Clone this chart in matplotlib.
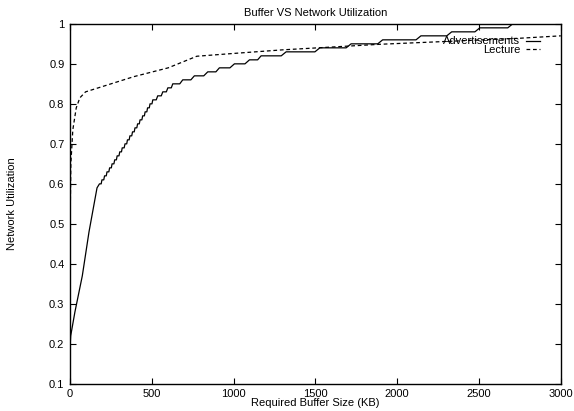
import numpy as np
import matplotlib
matplotlib.use("Agg")
import matplotlib.pyplot as plt

plt.rcParams['font.family'] = ['Liberation Sans', 'DejaVu Sans']

# Advertisements: straight rise first, then a staircase of 0.01 steps
adv_lin_x = [0, 4, 30, 75, 116, 165]
adv_lin_u = [0.19, 0.22, 0.28, 0.37, 0.48, 0.59]
adv_step_x = [180, 195, 211, 226, 242, 257, 273, 288, 304, 319,
              336, 351, 366, 382, 397, 413, 428, 444, 459, 474,
              489, 506, 536, 567, 598, 628, 689, 760, 842, 913,
              1005, 1097, 1168, 1321, 1527, 1718, 1911, 2145, 2333, 2505,
              2706]
adv_step_u = [0.60, 0.61, 0.62, 0.63, 0.64, 0.65, 0.66, 0.67, 0.68, 0.69,
              0.70, 0.71, 0.72, 0.73, 0.74, 0.75, 0.76, 0.77, 0.78, 0.79,
              0.80, 0.81, 0.82, 0.83, 0.84, 0.85, 0.86, 0.87, 0.88, 0.89,
              0.90, 0.91, 0.92, 0.93, 0.94, 0.95, 0.96, 0.97, 0.98, 0.99,
              1.00]
x_end = 3000

# Lecture
lec_x = [0, 2, 5, 17, 38, 60, 95, 390, 600, 775, 1000, 1300, 1900, 2300, 2750, 3000]
lec_u = [0.12, 0.55, 0.65, 0.735, 0.79, 0.815, 0.83, 0.868, 0.89, 0.919, 0.926,
         0.935, 0.949, 0.956, 0.964, 0.97]

# build the staircase path
ax_x = list(adv_lin_x)
ax_u = list(adv_lin_u)
for i in range(len(adv_step_x)):
    ax_x.append(adv_step_x[i])
    ax_u.append(adv_step_u[i])
    if i + 1 < len(adv_step_x):
        gap = adv_step_x[i + 1] - adv_step_x[i]
        ax_x.append(adv_step_x[i + 1] - min(0.3 * gap, 30))
        ax_u.append(adv_step_u[i])
ax_x.append(x_end)
ax_u.append(adv_step_u[-1])

fig = plt.figure(figsize=(5.74, 4.11), dpi=100)
ax = fig.add_axes([0.122, 0.066, 0.855, 0.876])

ax.plot(ax_x, ax_u, color="black", lw=0.9, label="Advertisements")
l2, = ax.plot(lec_x, lec_u, color="black", lw=0.9, label="Lecture")
l2.set_dashes([3, 2.2])

ax.set_xlim(0, 3000)
ax.set_ylim(0.1, 1.0)
ax.set_xticks([0, 500, 1000, 1500, 2000, 2500, 3000])
ax.set_yticks([0.1, 0.2, 0.3, 0.4, 0.5, 0.6, 0.7, 0.8, 0.9, 1.0])
ax.set_yticklabels(["0.1", "0.2", "0.3", "0.4", "0.5", "0.6", "0.7", "0.8", "0.9", "1"])
ax.tick_params(direction="in", top=True, right=True, length=4, width=0.8,
               labelsize=8, pad=4)
for s in ax.spines.values():
    s.set_linewidth(1.0)

ax.set_title("Buffer VS Network Utilization", fontsize=8, pad=6)
ax.set_xlabel("Required Buffer Size (KB)", fontsize=8, labelpad=-1)
ax.set_ylabel("Network Utilization", fontsize=8, labelpad=23)

ax.legend(loc="upper right", frameon=False, markerfirst=False, fontsize=8,
          handlelength=1.2, handletextpad=0.55, labelspacing=-0.1,
          borderpad=0, borderaxespad=0, bbox_to_anchor=(0.957, 0.965))

fig.savefig("out.png", dpi=100)
